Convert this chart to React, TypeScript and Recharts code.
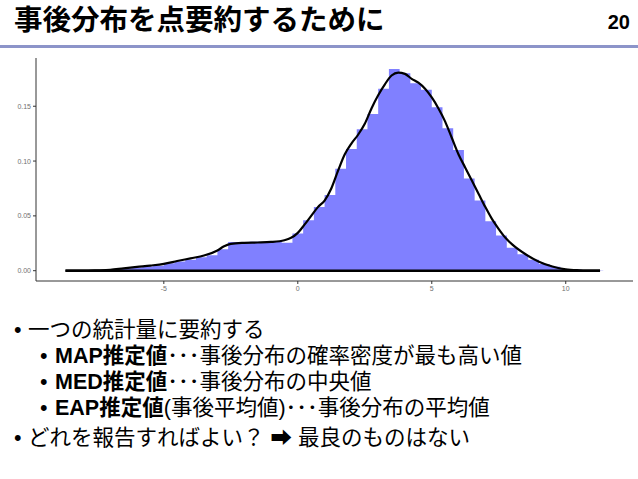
import { ComposedChart, Area, Line, XAxis, YAxis } from 'recharts';

// histogram bins (left edges) and bar heights (density scale)
const binStart = [
  -8.6, -8.2, -7.8, -7.4, -7.0, -6.6, -6.2, -5.8, -5.4, -5.0,
  -4.6, -4.2, -3.8, -3.4, -3.0, -2.6, -2.2, -1.8, -1.4, -1.0,
  -0.6, -0.2, 0.2, 0.6, 1.0, 1.4, 1.8, 2.2, 2.6, 3.0,
  3.4, 3.8, 4.2, 4.6, 5.0, 5.4, 5.8, 6.2, 6.6, 7.0,
  7.4, 7.8, 8.2, 8.6, 9.0, 9.4, 9.8, 10.2, 10.6, 11.0,
];
const binLastEdge = 11.4;
const binDensity = [
  0.0, 0.0001, 0.0002, 0.0006, 0.0012, 0.0022, 0.003, 0.0038, 0.0045, 0.0068,
  0.0085, 0.01, 0.0122, 0.014, 0.0195, 0.0262, 0.0258, 0.0265, 0.0262, 0.027,
  0.0255, 0.034, 0.046, 0.058, 0.069, 0.093, 0.111, 0.129, 0.143, 0.166,
  0.184, 0.18, 0.171, 0.165, 0.149, 0.13, 0.11, 0.084, 0.064, 0.045,
  0.032, 0.021, 0.015, 0.01, 0.006, 0.0035, 0.0015, 0.0008, 0.0003, 0.0001,
];

// kernel density curve
const curveX = [
  -8.67, -8.0, -7.5, -7.0, -6.5, -6.0, -5.5, -5.0, -4.5, -4.0,
  -3.5, -3.0, -2.75, -2.5, -2.0, -1.5, -1.0, -0.5, -0.25, 0.0,
  0.25, 0.5, 0.75, 1.0, 1.25, 1.5, 1.75, 2.0, 2.25, 2.5,
  2.75, 3.0, 3.25, 3.5, 3.75, 4.0, 4.25, 4.5, 4.75, 5.0,
  5.25, 5.5, 5.75, 6.0, 6.25, 6.5, 6.75, 7.0, 7.25, 7.5,
  7.75, 8.0, 8.5, 9.0, 9.5, 10.0, 10.5, 11.28,
];
const curveY = [
  0.0, 0.0, 0.0003, 0.0008, 0.0022, 0.0035, 0.0047, 0.0062, 0.0088, 0.0113,
  0.0138, 0.0185, 0.0222, 0.0245, 0.0254, 0.0257, 0.0262, 0.0278, 0.03, 0.0345,
  0.042, 0.05, 0.058, 0.064, 0.075, 0.091, 0.106, 0.116, 0.124, 0.134,
  0.148, 0.16, 0.17, 0.178, 0.1807, 0.1795, 0.175, 0.1715, 0.166, 0.158,
  0.148, 0.136, 0.121, 0.106, 0.094, 0.082, 0.07, 0.058, 0.047, 0.038,
  0.03, 0.024, 0.015, 0.0082, 0.0038, 0.0012, 0.0004, 0.0,
];
const baselineX = [-8.67, 11.28];

const xTicks = [-5, 0, 5, 10];
const yTicks = [0, 0.05, 0.1, 0.15];

const histData = [
  ...binStart.map((x, i) => ({ x, h: binDensity[i] })),
  { x: binLastEdge, h: 0 },
];
const curveData = curveX.map((x, i) => ({ x, d: curveY[i] }));
const baseData = baselineX.map((x) => ({ x, d: 0 }));

const jp = '"Liberation Sans", "Noto Sans CJK JP", sans-serif';
const tickStyle = { fontSize: 7, fill: '#707070', fontFamily: '"Liberation Sans", Arial, sans-serif' };

function Bullet({ left, top, gap, children }: { left: number; top: number; gap: number; children: any }) {
  return (
    <div style={{ position: 'absolute', left, top, fontSize: 21.5, lineHeight: 1, whiteSpace: 'nowrap', fontFamily: jp, color: '#000' }}>
      <span style={{ display: 'inline-block', width: gap }}>•</span>
      {children}
    </div>
  );
}

export default function App() {
  return (
    <div style={{ position: 'absolute', left: 0, top: 0, width: 638, height: 479, background: '#fff', overflow: 'hidden' }}>
      <div style={{ position: 'absolute', left: 14, top: 6, fontSize: 28.5, fontWeight: 700, lineHeight: 1, fontFamily: jp, whiteSpace: 'nowrap' }}>
        事後分布を点要約するために
      </div>
      <div style={{ position: 'absolute', right: 8, top: 12, fontSize: 20, fontWeight: 700, lineHeight: 1, fontFamily: '"Liberation Sans", Arial, sans-serif' }}>
        20
      </div>
      <div style={{ position: 'absolute', left: 0, top: 45, width: 638, height: 3, background: '#8c94c9' }} />

      <div style={{ position: 'absolute', left: 0, top: 50 }}>
        <ComposedChart width={638} height={250} margin={{ top: 8, right: 5, bottom: 0, left: 0 }}>
          <XAxis
            dataKey="x"
            type="number"
            domain={[-9.77, 12.51]}
            ticks={xTicks}
            allowDataOverflow
            height={19}
            tickSize={3}
            stroke="#333"
            tick={tickStyle}
          />
          <YAxis
            type="number"
            domain={[-0.0094, 0.194]}
            ticks={yTicks}
            allowDataOverflow
            width={36}
            tickSize={3}
            stroke="#333"
            tick={tickStyle}
            tickFormatter={(v: number) => v.toFixed(2)}
          />
          <Area
            data={histData}
            dataKey="h"
            type="stepAfter"
            fill="#8080ff"
            fillOpacity={1}
            stroke="none"
            baseValue={0}
            isAnimationActive={false}
          />
          <Line
            data={baseData}
            dataKey="d"
            type="linear"
            stroke="#000"
            strokeWidth={2.5}
            dot={false}
            isAnimationActive={false}
          />
          <Line
            data={curveData}
            dataKey="d"
            type="monotone"
            stroke="#000"
            strokeWidth={2.2}
            dot={false}
            isAnimationActive={false}
          />
        </ComposedChart>
      </div>

      <Bullet left={14} top={320} gap={14}>一つの統計量に要約する</Bullet>
      <Bullet left={40} top={346} gap={15}>
        <b>MAP推定値</b>･･･事後分布の確率密度が最も高い値
      </Bullet>
      <Bullet left={40} top={372} gap={15}>
        <b>MED推定値</b>･･･事後分布の中央値
      </Bullet>
      <Bullet left={40} top={398} gap={15}>
        <b>EAP推定値</b>(事後平均値)･･･事後分布の平均値
      </Bullet>
      <Bullet left={14} top={428} gap={14}>どれを報告すればよい？ ➡ 最良のものはない</Bullet>
    </div>
  );
}
